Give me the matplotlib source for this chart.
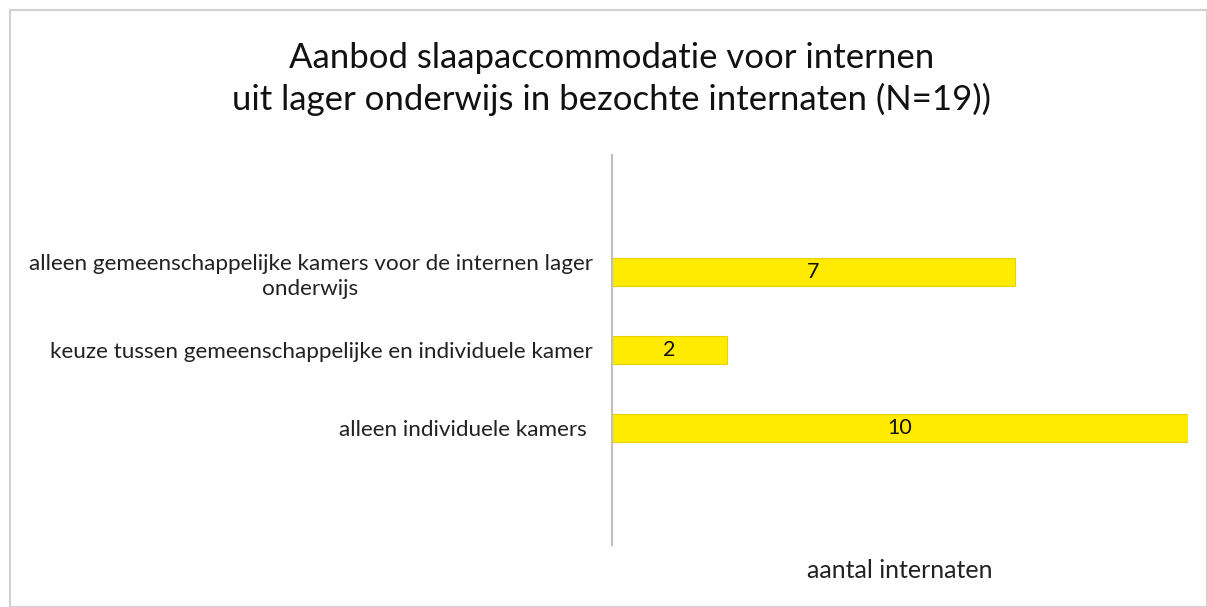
import matplotlib.pyplot as plt
from matplotlib.patches import Rectangle

# Data (top to bottom as shown)
categories = [
    "alleen gemeenschappelijke kamers voor de internen lager\nonderwijs",
    "keuze tussen gemeenschappelijke en individuele kamer",
    "alleen individuele kamers ",
]
values = [7, 2, 10]
title = "Aanbod slaapaccommodatie voor internen\nuit lager onderwijs in bezochte internaten (N=19))"
xlabel = "aantal internaten"

plt.rcParams['font.family'] = ['Lato', 'DejaVu Sans']

W, H = 1207, 607
fig = plt.figure(figsize=(W / 100, H / 100), dpi=100)

# light gray chart border
fig.patches.append(Rectangle((10 / W, 0), 1 - 10 / W, 1 - 10 / H, transform=fig.transFigure,
                             fill=False, edgecolor='#d0d0d0', linewidth=1.5))

ax = fig.add_axes([612 / W, 62 / H, 576 / W, 390 / H])
pos = list(range(len(categories)))[::-1]
bars = ax.barh(pos, values, height=0.36, color='#FFEB00', edgecolor='#E8D200', linewidth=0.8)

for b, v in zip(bars, values):
    ax.text(b.get_width() / 2, b.get_y() + b.get_height() / 2, str(v),
            ha='center', va='center', fontsize=15.5, color='#111111')

ax.set_xlim(0, 10)
ax.set_ylim(-1.5, 3.5)
ax.set_yticks(pos)
ax.set_yticklabels(categories, fontsize=16.2, color='#222222', multialignment='center',
                   linespacing=1.3)
ax.tick_params(axis='y', length=0, pad=14)
ax.set_xticks([])
for s in ['top', 'right', 'bottom']:
    ax.spines[s].set_visible(False)
ax.spines['left'].set_color('#bfbfbf')
ax.spines['left'].set_linewidth(1.5)

ax.set_xlabel(xlabel, fontsize=18, color='#222222', labelpad=10)

fig.text(612 / W, 1 - 79 / H, title, ha='center', va='center', fontsize=25,
         color='#111111', linespacing=1.35)

fig.savefig('out.png', dpi=100)
